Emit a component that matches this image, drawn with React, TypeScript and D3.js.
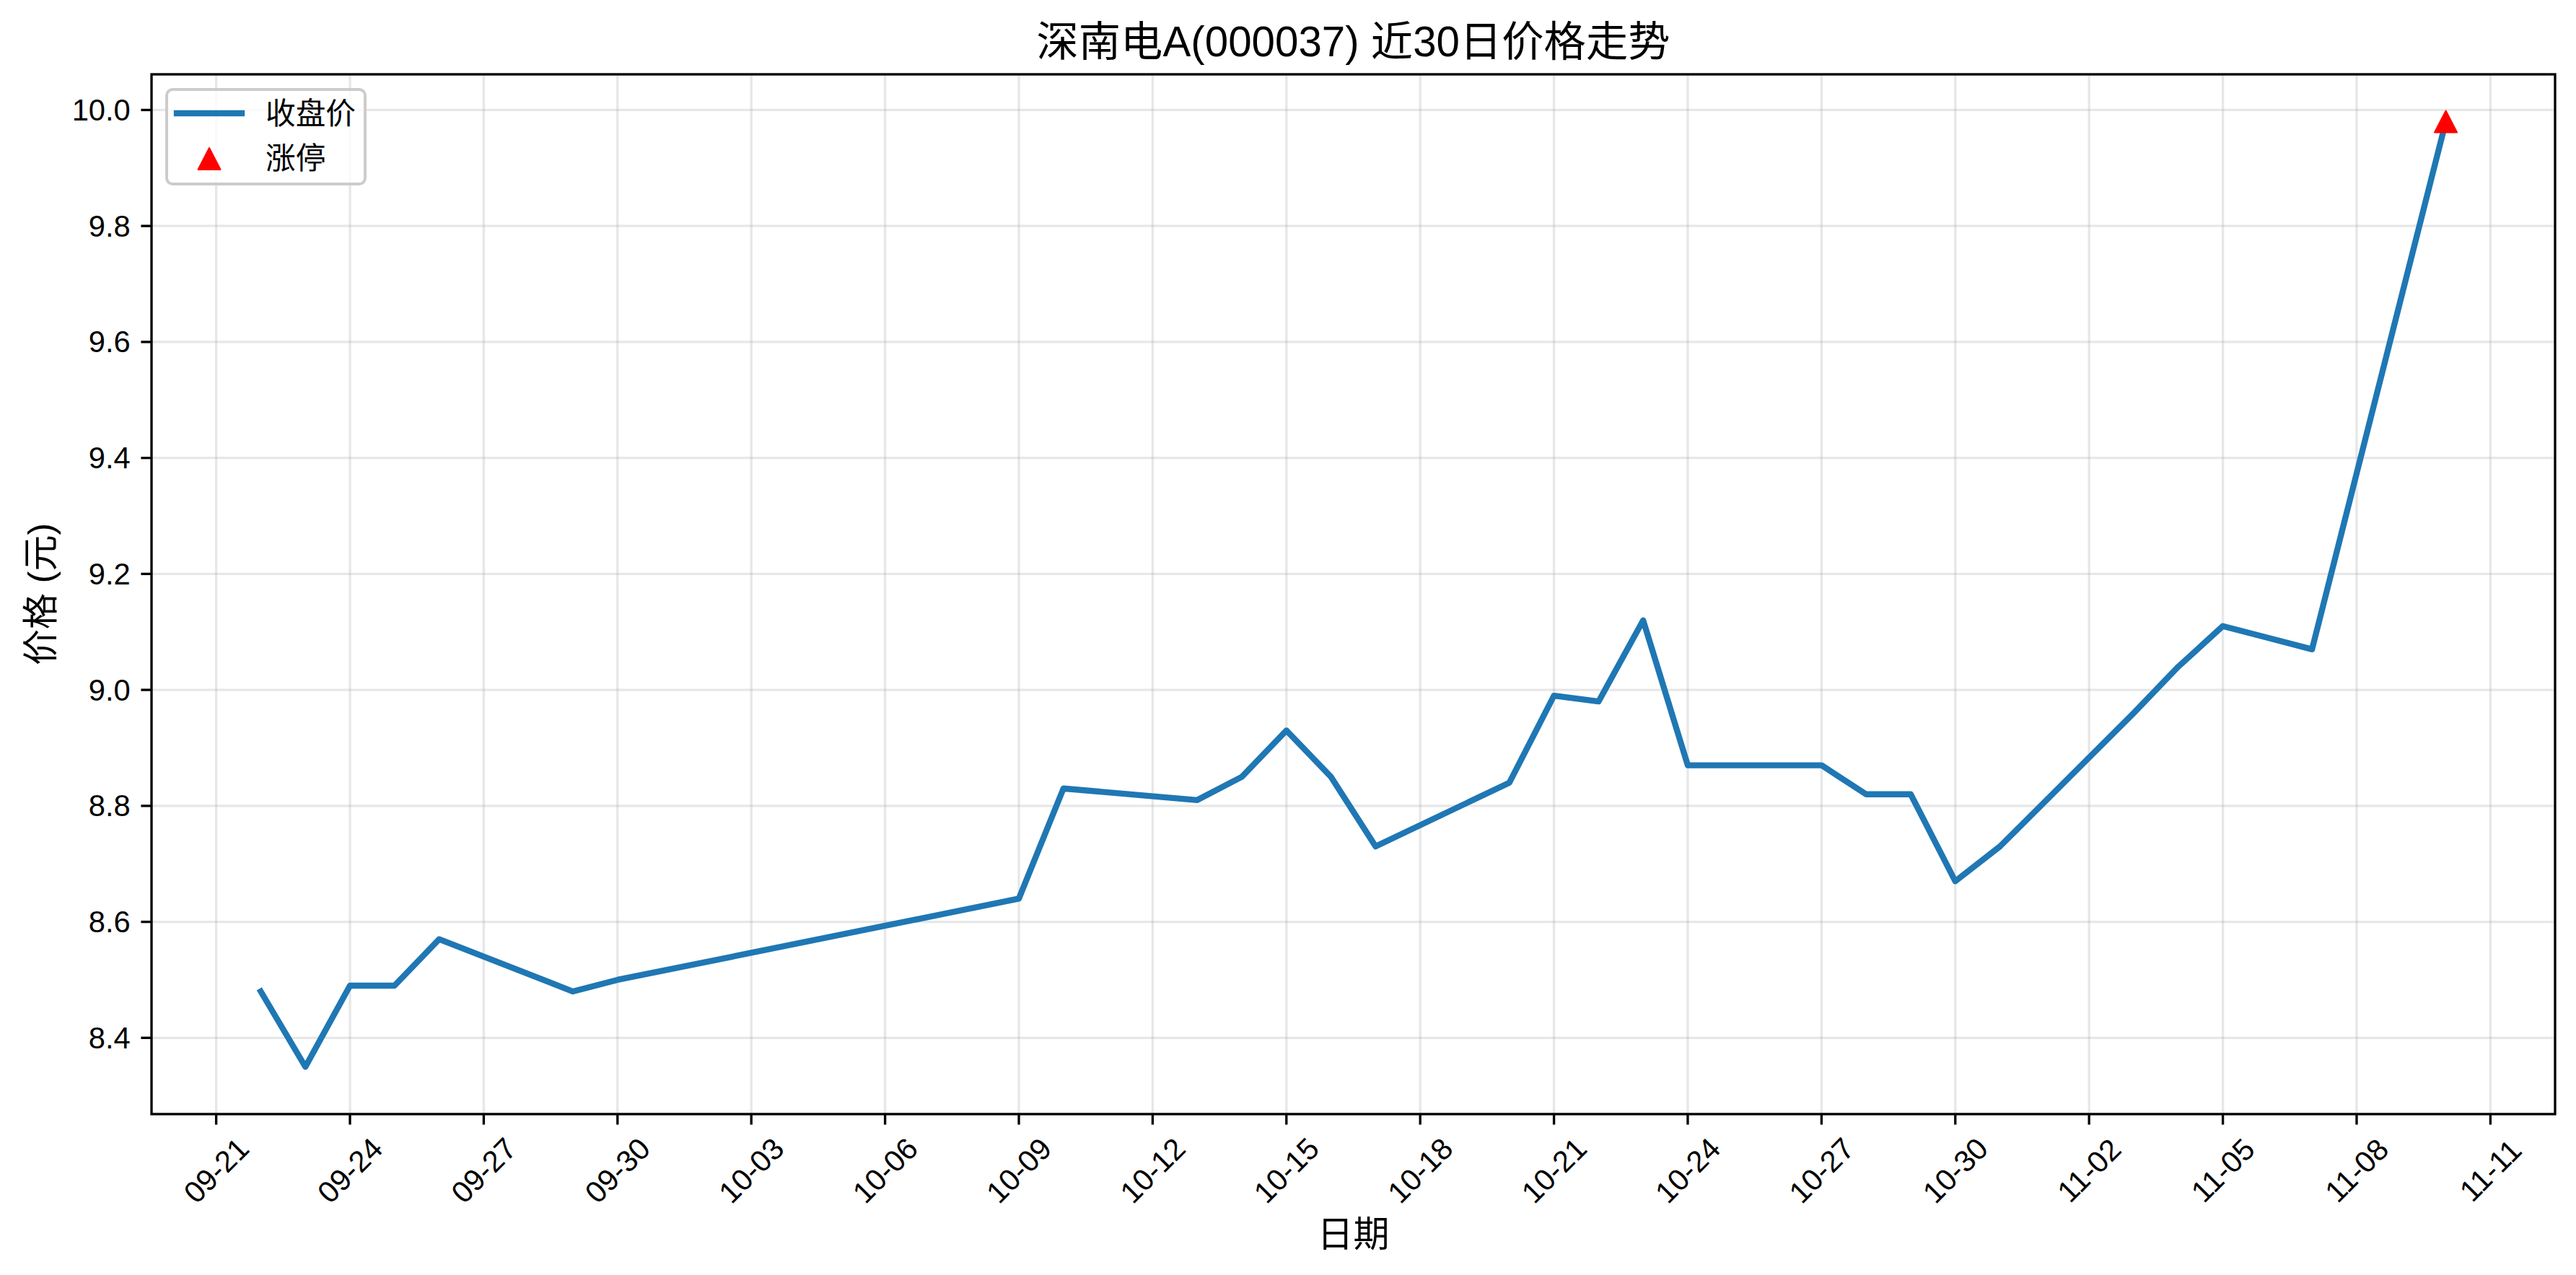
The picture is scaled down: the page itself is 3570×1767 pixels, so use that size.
import React from "react";
import * as d3 from "d3";

// ---- data ----
const dates: string[] = [
  "2025-09-22", "2025-09-23", "2025-09-24", "2025-09-25", "2025-09-26",
  "2025-09-29", "2025-09-30", "2025-10-09", "2025-10-10", "2025-10-13",
  "2025-10-14", "2025-10-15", "2025-10-16", "2025-10-17", "2025-10-20",
  "2025-10-21", "2025-10-22", "2025-10-23", "2025-10-24", "2025-10-27",
  "2025-10-28", "2025-10-29", "2025-10-30", "2025-10-31", "2025-11-03",
  "2025-11-04", "2025-11-05", "2025-11-06", "2025-11-07", "2025-11-10",
];
const closes: number[] = [
  8.48, 8.35, 8.49, 8.49, 8.57,
  8.48, 8.50, 8.64, 8.83, 8.81,
  8.85, 8.93, 8.85, 8.73, 8.84,
  8.99, 8.98, 9.12, 8.87, 8.87,
  8.82, 8.82, 8.67, 8.73, 8.96,
  9.04, 9.11, 9.09, 9.07, 9.98,
];
const limitUpDates: string[] = ["2025-11-10"];
const limitUpPrices: number[] = [9.98];
const xTickDates: string[] = [
  "2025-09-21", "2025-09-24", "2025-09-27", "2025-09-30", "2025-10-03",
  "2025-10-06", "2025-10-09", "2025-10-12", "2025-10-15", "2025-10-18",
  "2025-10-21", "2025-10-24", "2025-10-27", "2025-10-30", "2025-11-02",
  "2025-11-05", "2025-11-08", "2025-11-11",
];
const titleText = "深南电A(000037) 近30日价格走势";
const xLabel = "日期";
const yLabel = "价格 (元)";
const legendLabels = ["收盘价", "涨停"];

const W = 3570;
const H = 1767;
const L = 210, R = 3541, T = 103, B = 1544;
const FONT = "'Liberation Sans', Arial, 'Noto Sans CJK SC', sans-serif";
const BLUE = "#1f77b4";

export default function App() {
  const parse = d3.timeParse("%Y-%m-%d");
  const xs = dates.map((d) => parse(d) as Date);
  const [xmin, xmax] = d3.extent(xs) as [Date, Date];
  const xpad = (xmax.getTime() - xmin.getTime()) * 0.05;
  const x = d3
    .scaleTime()
    .domain([new Date(xmin.getTime() - xpad), new Date(xmax.getTime() + xpad)])
    .range([L, R]);
  const allY = closes.concat(limitUpPrices);
  const [ymin, ymax] = d3.extent(allY) as [number, number];
  const ypad = (ymax - ymin) * 0.05;
  const y = d3.scaleLinear().domain([ymin - ypad, ymax + ypad]).range([B, T]);

  const pts = xs.map((d, i) => [x(d), y(closes[i])] as [number, number]);
  const linePath = d3.line()(pts) || "";
  const yTicks = y.ticks(8);
  const fmtY = d3.format(".1f");
  const fmtX = d3.timeFormat("%m-%d");
  const xTicks = xTickDates.map((d) => parse(d) as Date);

  const tri = (cx: number, cy: number, w = 31, h = 30) =>
    `M${cx},${cy - h / 2}L${cx + w / 2},${cy + h / 2}L${cx - w / 2},${cy + h / 2}Z`;

  const tickFs = 41.7;
  const sw = 3.33;

  return (
    <svg
      width={W}
      height={H}
      style={{ position: "fixed", left: 0, top: 0, background: "#fff" }}
      fontFamily={FONT}
    >
      <rect x={0} y={0} width={W} height={H} fill="#fff" />
      {/* grid */}
      <g stroke="#b0b0b0" strokeOpacity={0.3} strokeWidth={sw}>
        {xTicks.map((d, i) => (
          <line key={"gx" + i} x1={x(d)} x2={x(d)} y1={T} y2={B} />
        ))}
        {yTicks.map((v, i) => (
          <line key={"gy" + i} x1={L} x2={R} y1={y(v)} y2={y(v)} />
        ))}
      </g>
      {/* line */}
      <path
        d={linePath}
        fill="none"
        stroke={BLUE}
        strokeWidth={8.33}
        strokeLinejoin="round"
        strokeLinecap="square"
      />
      {/* limit up markers */}
      {limitUpDates.map((d, i) => (
        <path key={"lu" + i} d={tri(x(parse(d) as Date), y(limitUpPrices[i]))} fill="red" stroke="red" strokeWidth={2} strokeLinejoin="round" />
      ))}
      {/* spines */}
      <rect x={L} y={T} width={R - L} height={B - T} fill="none" stroke="#000" strokeWidth={sw} />
      {/* x ticks */}
      {xTicks.map((d, i) => (
        <g key={"xt" + i}>
          <line x1={x(d)} x2={x(d)} y1={B} y2={B + 14.6} stroke="#000" strokeWidth={sw} />
          <text
            transform={`translate(${x(d)},${1622}) rotate(-45)`}
            textAnchor="middle"
            dominantBaseline="central"
            fontSize={tickFs}
            fill="#000"
          >
            {fmtX(d)}
          </text>
        </g>
      ))}
      {/* y ticks */}
      {yTicks.map((v, i) => (
        <g key={"yt" + i}>
          <line x1={L - 14.6} x2={L} y1={y(v)} y2={y(v)} stroke="#000" strokeWidth={sw} />
          <text
            x={L - 29.2}
            y={y(v)}
            textAnchor="end"
            dominantBaseline="central"
            fontSize={tickFs}
            fill="#000"
          >
            {fmtY(v)}
          </text>
        </g>
      ))}
      {/* title */}
      <text x={(L + R) / 2} y={78} textAnchor="middle" fontSize={58.3} fill="#000">
        {titleText}
      </text>
      {/* axis labels */}
      <text x={(L + R) / 2} y={1711} textAnchor="middle" dominantBaseline="central" fontSize={50} fill="#000">
        {xLabel}
      </text>
      <text
        transform={`translate(${57},${(T + B) / 2}) rotate(-90)`}
        textAnchor="middle"
        dominantBaseline="central"
        fontSize={50}
        fill="#000"
      >
        {yLabel}
      </text>
      {/* legend */}
      <g>
        <rect x={231} y={124} width={275} height={131} rx={8.3} ry={8.3} fill="#fff" fillOpacity={0.8} stroke="#cccccc" strokeWidth={4} />
        <line x1={245} x2={335} y1={157} y2={157} stroke={BLUE} strokeWidth={8.33} strokeLinecap="square" />
        <text x={368} y={157} dominantBaseline="central" fontSize={tickFs} fill="#000">
          {legendLabels[0]}
        </text>
        <path d={tri(290, 220)} fill="red" stroke="red" strokeWidth={2} strokeLinejoin="round" />
        <text x={368} y={219} dominantBaseline="central" fontSize={tickFs} fill="#000">
          {legendLabels[1]}
        </text>
      </g>
    </svg>
  );
}
